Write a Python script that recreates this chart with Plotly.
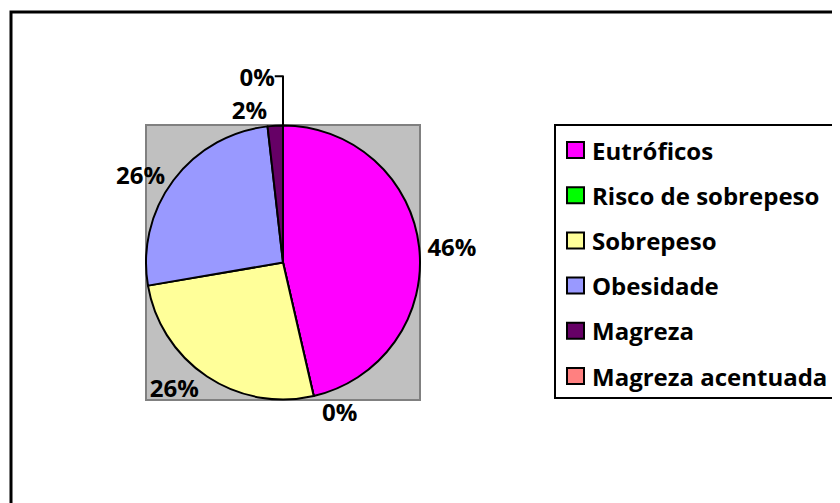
import plotly.graph_objects as go

labels = ["Eutróficos", "Risco de sobrepeso", "Sobrepeso", "Obesidade", "Magreza", "Magreza acentuada"]
values = [46.4, 0, 25.9, 25.9, 1.8, 0]
colors = ["#FF00FF", "#00FF00", "#FFFF99", "#9999FF", "#660066", "#FF8080"]

# the page body has an 8px margin; figure fills the rest of the 840x503 window
OFF = 8
W, H = 840 - OFF, 503 - OFF
FONT = "Open Sans"
FS = 24


def px(x):
    return (x - OFF) / W


def py(y):
    return 1 - (y - OFF) / H


# plot area (gray square) in window pixels
pl, pr, pt_, pb = 146, 420, 125, 400

fig = go.Figure()
fig.add_trace(go.Pie(
    labels=labels, values=values, sort=False, direction="clockwise", rotation=0,
    marker=dict(colors=colors, line=dict(color="black", width=2)),
    textposition="outside", texttemplate="%{percent:.0%}",
    textfont=dict(family=FONT, size=FS, color="black", weight="bold"),
    domain=dict(x=[px(pl), px(pr)], y=[py(pb), py(pt_)]),
    showlegend=False, hoverinfo="label+percent",
))

shapes = [
    dict(type="rect", xref="paper", yref="paper", x0=px(pl), x1=px(pr), y0=py(pb), y1=py(pt_),
         fillcolor="#C0C0C0", line=dict(color="#808080", width=2), layer="below"),
    dict(type="rect", xref="paper", yref="paper", x0=px(11), x1=px(900), y0=py(560), y1=py(12),
         fillcolor="rgba(0,0,0,0)", line=dict(color="black", width=3), layer="above"),
    dict(type="rect", xref="paper", yref="paper", x0=px(555), x1=px(900), y0=py(398), y1=py(125),
         fillcolor="white", line=dict(color="black", width=2), layer="below"),
]
annotations = []
row0, step = 150, 45.2
for i, (lab, col) in enumerate(zip(labels, colors)):
    yc = row0 + i * step
    shapes.append(dict(type="rect", xref="paper", yref="paper", x0=px(567), x1=px(584),
                       y0=py(yc + 8), y1=py(yc - 8), fillcolor=col,
                       line=dict(color="black", width=2), layer="above"))
    annotations.append(dict(x=px(590), y=py(yc), xref="paper", yref="paper", text=lab,
                            showarrow=False, xanchor="left", yanchor="middle",
                            font=dict(family=FONT, size=FS, color="black", weight="bold")))

fig.update_layout(
    width=W, height=H, margin=dict(l=0, r=0, t=0, b=0),
    paper_bgcolor="white", plot_bgcolor="white",
    shapes=shapes, annotations=annotations,
    font=dict(family=FONT),
)
fig.write_html("out.html")
